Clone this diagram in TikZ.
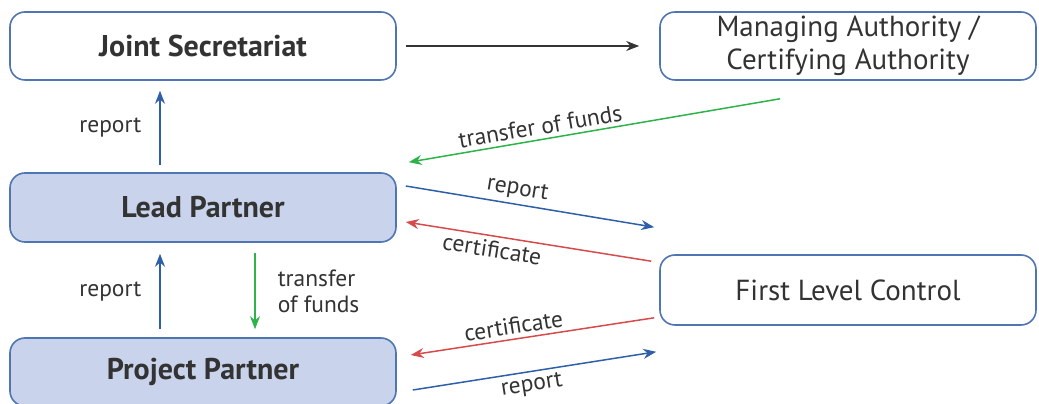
\documentclass[tikz,border=0pt]{standalone}
\usepackage{fontspec}
\setmainfont{PT Sans}
\usetikzlibrary{arrows.meta}

\definecolor{boxline}{HTML}{4F75B3}
\definecolor{boxfill}{HTML}{C9D3EB}
\definecolor{txt}{HTML}{333333}
\definecolor{repblue}{HTML}{2F5FA8}
\definecolor{fundgreen}{HTML}{2DB34A}
\definecolor{certred}{HTML}{D64B4B}

\begin{document}
\begin{tikzpicture}[x=1pt,y=1pt,
    body/.style={draw=boxline, line width=1.6pt, rounded corners=15pt,
      minimum width=386pt, minimum height=68pt, inner sep=0pt,
      text=txt, font=\fontsize{29}{33}\selectfont, align=center},
    partner/.style={body, fill=boxfill, font=\fontsize{30}{34}\selectfont\bfseries},
    flow/.style={line width=1.5pt, -{Stealth[length=13pt,width=10pt]}},
    lbl/.style={text=txt, font=\fontsize{23.5}{26}\selectfont, inner sep=4pt}]
  \useasboundingbox (0,0) rectangle (1039,404);

  % boxes
  \node[body, font=\fontsize{30}{34}\selectfont\bfseries] (js) at (203,358) {Joint Secretariat};
  \node[body, minimum width=376pt] (ma) at (848,358) {Managing Authority /\\Certifying Authority};
  \node[partner, minimum height=69pt] (lp) at (203,196.5) {Lead Partner};
  \node[partner] (pp) at (203,32) {Project Partner};
  \node[body, minimum width=376pt, minimum height=70pt] (flc) at (848,114) {First Level Control};

  % secretariat -> authority
  \draw[flow, draw=txt] ([xshift=9pt]js.east) -- ([xshift=-20pt]ma.west);

  % reports upwards
  \draw[flow, draw=repblue] ([xshift=-43pt,yshift=7pt]lp.north) --
    node[lbl, left, xshift=-14pt] {report} ([xshift=-43pt,yshift=-10pt]js.south);
  \draw[flow, draw=repblue] ([xshift=-43pt,yshift=8pt]pp.north) --
    node[lbl, left, xshift=-14pt] {report} ([xshift=-43pt,yshift=-11pt]lp.south);

  % funds
  \draw[flow, draw=fundgreen] ([xshift=-68pt,yshift=-18pt]ma.south) --
    node[lbl, sloped, above, pos=0.64] {transfer of funds} ([xshift=12pt,yshift=10pt]lp.north east);
  \draw[flow, draw=fundgreen] ([xshift=52pt,yshift=-10pt]lp.south) --
    node[lbl, right, align=left, xshift=18pt] {transfer\\of funds} ([xshift=52pt,yshift=8pt]pp.north);

  % first level control
  \draw[flow, draw=repblue] ([xshift=9pt,yshift=21.5pt]lp.east) --
    node[lbl, sloped, above, pos=0.44] {report} ([xshift=-5pt,yshift=27pt]flc.north west);
  \draw[flow, draw=certred] ([xshift=-8pt,yshift=-7pt]flc.north west) --
    node[lbl, sloped, below, pos=0.64] {certificate} ([xshift=9pt,yshift=-14.5pt]lp.east);
  \draw[flow, draw=certred] ([xshift=-5pt,yshift=8pt]flc.south west) --
    node[lbl, sloped, above, pos=0.57] {certificate} ([xshift=14pt,yshift=17pt]pp.east);
  \draw[flow, draw=repblue] ([xshift=16pt,yshift=-18pt]pp.east) --
    node[lbl, sloped, below, pos=0.48] {report} ([xshift=-3pt,yshift=-26pt]flc.south west);
\end{tikzpicture}
\end{document}
